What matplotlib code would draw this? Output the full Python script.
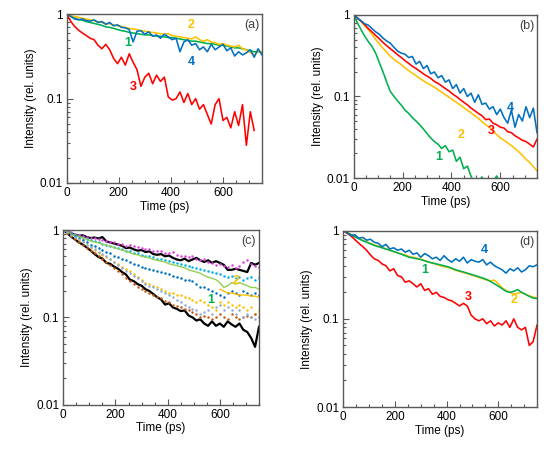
import numpy as np
import matplotlib
matplotlib.use("Agg")
import matplotlib.pyplot as plt
from matplotlib.ticker import FixedLocator, MultipleLocator, LogLocator, NullFormatter, FuncFormatter

plt.rcParams['font.family'] = ['Liberation Sans', 'DejaVu Sans']

# ---------------- data ----------------
t15 = np.arange(0, 751, 15)
t15_red_a = np.arange(0, 721, 15)
t_yel_c = np.arange(600, 751, 15)

# panel (a)
a_green = [1.0, 0.95, 0.91, 0.87, 0.85, 0.82, 0.80, 0.78, 0.76, 0.74,
           0.71, 0.70, 0.68, 0.66, 0.64, 0.63, 0.61, 0.60, 0.59, 0.58,
           0.57, 0.57, 0.56, 0.55, 0.55, 0.54, 0.53, 0.53, 0.52, 0.51,
           0.50, 0.49, 0.48, 0.48, 0.47, 0.46, 0.45, 0.45, 0.44, 0.43,
           0.43, 0.42, 0.41, 0.40, 0.40, 0.39, 0.38, 0.37, 0.36, 0.36,
           0.35]
a_yellow = [1.0, 0.97, 0.94, 0.92, 0.90, 0.88, 0.86, 0.84, 0.82, 0.80,
            0.78, 0.77, 0.75, 0.73, 0.72, 0.70, 0.68, 0.67, 0.66, 0.64,
            0.63, 0.62, 0.61, 0.60, 0.59, 0.58, 0.59, 0.56, 0.55, 0.54,
            0.53, 0.52, 0.51, 0.54, 0.50, 0.48, 0.50, 0.47, 0.46, 0.44,
            0.45, 0.43, 0.42, 0.41, 0.43, 0.39, 0.38, 0.35, 0.33, 0.36,
            0.36]
a_blue = [1.0, 0.95, 0.88, 0.86, 0.88, 0.84, 0.83, 0.86, 0.80, 0.82,
          0.76, 0.80, 0.73, 0.75, 0.70, 0.69, 0.66, 0.47, 0.63, 0.64,
          0.58, 0.62, 0.55, 0.57, 0.52, 0.58, 0.54, 0.50, 0.52, 0.36,
          0.47, 0.50, 0.43, 0.45, 0.38, 0.41, 0.36, 0.44, 0.38, 0.41,
          0.44, 0.37, 0.40, 0.32, 0.36, 0.33, 0.35, 0.38, 0.31, 0.39,
          0.33]
a_red = [1.0, 0.83, 0.72, 0.65, 0.60, 0.56, 0.52, 0.50, 0.43, 0.39,
         0.44, 0.38, 0.30, 0.26, 0.31, 0.25, 0.34, 0.27, 0.22, 0.14,
         0.18, 0.20, 0.15, 0.19, 0.16, 0.18, 0.105, 0.096, 0.10, 0.12,
         0.09, 0.115, 0.085, 0.10, 0.075, 0.085, 0.065, 0.05, 0.085, 0.10,
         0.055, 0.06, 0.045, 0.07, 0.048, 0.085, 0.028, 0.07, 0.042]

# panel (b)
b_green = [1.0, 0.80, 0.66, 0.55, 0.47, 0.41, 0.34, 0.26, 0.20, 0.15,
           0.115, 0.10, 0.088, 0.078, 0.068, 0.062, 0.055, 0.05, 0.045, 0.04,
           0.035, 0.031, 0.028, 0.026, 0.023, 0.025, 0.021, 0.022, 0.016, 0.018,
           0.013, 0.014, 0.0105, 0.0085, 0.009, 0.0103, 0.008, 0.0075, 0.009, 0.0106,
           0.0085, 0.007, 0.0075, 0.006, 0.007, 0.006, 0.0065, 0.0055, 0.006, 0.005,
           0.005]
b_yellow = [1.0, 0.92, 0.83, 0.74, 0.66, 0.58, 0.50, 0.44, 0.39, 0.35,
            0.31, 0.285, 0.265, 0.245, 0.225, 0.208, 0.193, 0.18, 0.167, 0.156,
            0.146, 0.138, 0.13, 0.121, 0.113, 0.105, 0.098, 0.091, 0.085, 0.079,
            0.073, 0.068, 0.063, 0.058, 0.054, 0.049, 0.045, 0.042, 0.038, 0.034,
            0.031, 0.029, 0.027, 0.025, 0.023, 0.021, 0.019, 0.017, 0.0155, 0.0138,
            0.0122]
b_red = [1.0, 0.92, 0.84, 0.76, 0.68, 0.62, 0.56, 0.51, 0.46, 0.42,
         0.385, 0.355, 0.325, 0.30, 0.275, 0.255, 0.235, 0.22, 0.205, 0.19,
         0.178, 0.167, 0.153, 0.145, 0.135, 0.125, 0.117, 0.107, 0.10, 0.092,
         0.085, 0.079, 0.072, 0.067, 0.062, 0.058, 0.052, 0.053, 0.047, 0.045,
         0.042, 0.041, 0.037, 0.036, 0.033, 0.031, 0.029, 0.028, 0.026, 0.024,
         0.03]
b_blue = [1.0, 0.92, 0.85, 0.78, 0.75, 0.68, 0.62, 0.58, 0.52, 0.48,
          0.45, 0.40, 0.36, 0.34, 0.33, 0.30, 0.31, 0.25, 0.27, 0.22,
          0.24, 0.19, 0.20, 0.17, 0.18, 0.15, 0.16, 0.125, 0.14, 0.11,
          0.125, 0.10, 0.11, 0.085, 0.105, 0.08, 0.083, 0.07, 0.075, 0.06,
          0.07, 0.055, 0.047, 0.068, 0.042, 0.06, 0.05, 0.075, 0.055, 0.072,
          0.036]

# panel (c)
c_black_up = [1.0, 0.95, 0.92, 0.88, 0.86, 0.87, 0.83, 0.81, 0.82, 0.80,
              0.83, 0.74, 0.72, 0.70, 0.68, 0.66, 0.62, 0.63, 0.60, 0.58,
              0.59, 0.56, 0.57, 0.53, 0.52, 0.53, 0.50, 0.51, 0.48, 0.46,
              0.45, 0.47, 0.44, 0.46, 0.48, 0.45, 0.43, 0.45, 0.42, 0.44,
              0.42, 0.40, 0.35, 0.35, 0.36, 0.35, 0.34, 0.33, 0.42, 0.40,
              0.42]
c_black_low = [1.0, 0.92, 0.84, 0.78, 0.72, 0.68, 0.63, 0.58, 0.53, 0.49,
               0.47, 0.42, 0.41, 0.38, 0.36, 0.33, 0.31, 0.27, 0.26, 0.24,
               0.23, 0.21, 0.20, 0.185, 0.17, 0.16, 0.14, 0.145, 0.13, 0.125,
               0.118, 0.12, 0.105, 0.10, 0.092, 0.095, 0.085, 0.08, 0.09, 0.08,
               0.085, 0.078, 0.09, 0.083, 0.078, 0.085, 0.072, 0.068, 0.058, 0.046,
               0.078]
c_magenta = [1.0, 0.97, 0.94, 0.90, 0.88, 0.86, 0.84, 0.82, 0.80, 0.79,
             0.76, 0.75, 0.73, 0.72, 0.70, 0.69, 0.66, 0.67, 0.66, 0.64,
             0.63, 0.60, 0.61, 0.58, 0.57, 0.58, 0.55, 0.54, 0.56, 0.52,
             0.51, 0.50, 0.49, 0.50, 0.47, 0.45, 0.46, 0.43, 0.42, 0.40,
             0.41, 0.39, 0.38, 0.40, 0.37, 0.39, 0.43, 0.45, 0.41, 0.39,
             0.38]
c_cyan = [1.0, 0.96, 0.92, 0.88, 0.85, 0.82, 0.79, 0.76, 0.74, 0.72,
          0.70, 0.68, 0.66, 0.64, 0.62, 0.60, 0.58, 0.57, 0.55, 0.54,
          0.52, 0.51, 0.50, 0.49, 0.47, 0.46, 0.45, 0.44, 0.43, 0.42,
          0.41, 0.40, 0.39, 0.38, 0.37, 0.36, 0.35, 0.34, 0.33, 0.32,
          0.31, 0.30, 0.29, 0.30, 0.28, 0.29, 0.27, 0.28, 0.29, 0.27,
          0.28]
c_green = [1.0, 0.95, 0.91, 0.87, 0.84, 0.81, 0.78, 0.75, 0.73, 0.71,
           0.69, 0.67, 0.65, 0.63, 0.61, 0.59, 0.57, 0.55, 0.53, 0.52,
           0.50, 0.49, 0.48, 0.46, 0.45, 0.44, 0.43, 0.41, 0.40, 0.39,
           0.38, 0.37, 0.35, 0.34, 0.33, 0.32, 0.30, 0.29, 0.28, 0.27,
           0.25, 0.22, 0.23, 0.25, 0.24, 0.25, 0.24, 0.23, 0.22, 0.22,
           0.21]
c_blue = [1.0, 0.95, 0.90, 0.85, 0.80, 0.76, 0.72, 0.68, 0.65, 0.62,
          0.59, 0.56, 0.54, 0.51, 0.49, 0.47, 0.45, 0.43, 0.41, 0.40,
          0.38, 0.37, 0.36, 0.35, 0.34, 0.33, 0.32, 0.31, 0.30, 0.29,
          0.28, 0.27, 0.27, 0.26, 0.24, 0.22, 0.22, 0.21, 0.20, 0.19,
          0.18, 0.17, 0.19, 0.20, 0.19, 0.18, 0.20, 0.19, 0.18, 0.19,
          0.18]
c_orange = [1.0, 0.93, 0.87, 0.82, 0.77, 0.72, 0.67, 0.63, 0.59, 0.55,
            0.52, 0.49, 0.46, 0.43, 0.41, 0.38, 0.36, 0.34, 0.31, 0.29,
            0.27, 0.25, 0.24, 0.23, 0.22, 0.21, 0.20, 0.19, 0.19, 0.18,
            0.18, 0.17, 0.165, 0.16, 0.15, 0.16, 0.15, 0.14, 0.13, 0.12,
            0.15, 0.14, 0.15, 0.14, 0.13, 0.14, 0.13, 0.12, 0.13, 0.11,
            0.12]
c_yellow_line = [0.21, 0.20, 0.19, 0.19, 0.185, 0.18, 0.18, 0.18, 0.175, 0.175, 0.17]
c_brown = [1.0, 0.92, 0.85, 0.79, 0.73, 0.68, 0.63, 0.58, 0.54, 0.50,
           0.46, 0.43, 0.40, 0.37, 0.34, 0.31, 0.28, 0.26, 0.24, 0.22,
           0.21, 0.20, 0.19, 0.18, 0.17, 0.165, 0.155, 0.15, 0.14, 0.135,
           0.13, 0.125, 0.12, 0.115, 0.11, 0.10, 0.105, 0.10, 0.095, 0.10,
           0.11, 0.10, 0.095, 0.11, 0.10, 0.095, 0.10, 0.105, 0.10, 0.11,
           0.10]
c_lavender = [1.0, 0.94, 0.88, 0.83, 0.78, 0.73, 0.68, 0.64, 0.60, 0.56,
              0.53, 0.50, 0.46, 0.43, 0.40, 0.37, 0.34, 0.32, 0.30, 0.28,
              0.26, 0.24, 0.23, 0.22, 0.21, 0.20, 0.19, 0.18, 0.17, 0.16,
              0.15, 0.14, 0.13, 0.125, 0.12, 0.11, 0.115, 0.12, 0.11, 0.13,
              0.14, 0.12, 0.13, 0.12, 0.11, 0.12, 0.10, 0.11, 0.10, 0.095,
              0.10]

# panel (d)
d_red = [1.0, 0.93, 0.87, 0.79, 0.72, 0.66, 0.60, 0.53, 0.48, 0.46,
         0.42, 0.40, 0.35, 0.37, 0.31, 0.30, 0.26, 0.27, 0.25, 0.23,
         0.25, 0.21, 0.22, 0.19, 0.20, 0.18, 0.175, 0.165, 0.16, 0.15,
         0.14, 0.15, 0.14, 0.11, 0.10, 0.095, 0.10, 0.088, 0.095, 0.083,
         0.09, 0.085, 0.095, 0.08, 0.10, 0.08, 0.075, 0.08, 0.05, 0.055,
         0.085]
d_green = [1.0, 0.95, 0.90, 0.85, 0.81, 0.77, 0.74, 0.71, 0.68, 0.66,
           0.64, 0.62, 0.60, 0.58, 0.56, 0.54, 0.52, 0.50, 0.49, 0.48,
           0.47, 0.455, 0.44, 0.43, 0.42, 0.41, 0.40, 0.39, 0.375, 0.36,
           0.35, 0.34, 0.33, 0.32, 0.31, 0.30, 0.29, 0.28, 0.265, 0.25,
           0.235, 0.22, 0.205, 0.20, 0.205, 0.215, 0.20, 0.19, 0.18, 0.172,
           0.17]
d_yellow = [1.0, 0.96, 0.91, 0.86, 0.82, 0.78, 0.75, 0.72, 0.69, 0.67,
            0.645, 0.625, 0.60, 0.58, 0.56, 0.545, 0.53, 0.51, 0.50, 0.49,
            0.475, 0.46, 0.44, 0.43, 0.415, 0.40, 0.39, 0.385, 0.37, 0.355,
            0.345, 0.335, 0.325, 0.315, 0.305, 0.295, 0.285, 0.275, 0.27, 0.275,
            0.25, 0.225, 0.21, 0.20, 0.19, 0.195, 0.20, 0.19, 0.182, 0.177,
            0.172]
d_blue = [1.0, 0.95, 0.88, 0.90, 0.82, 0.84, 0.78, 0.80, 0.74, 0.72,
          0.66, 0.70, 0.62, 0.64, 0.60, 0.62, 0.57, 0.60, 0.54, 0.56,
          0.50, 0.55, 0.52, 0.48, 0.50, 0.46, 0.52, 0.47, 0.44, 0.48,
          0.45, 0.50, 0.43, 0.47, 0.45, 0.44, 0.47, 0.41, 0.44, 0.40,
          0.38, 0.36, 0.33, 0.37, 0.35, 0.38, 0.34, 0.36, 0.40, 0.39,
          0.41]

GREEN = '#00B050'
YELLOW = '#FFC000'
BLUE = '#0070C0'
RED = '#FF0000'

fig = plt.figure(figsize=(5.5, 4.57), dpi=100)

rects = {
    'a': [0.1213, 0.5996, 0.4764 - 0.1213, 0.9687 - 0.5996],
    'b': [0.6431, 0.6105, 0.9764 - 0.6431, 0.9672 - 0.6105],
    'c': [0.1151, 0.1144, 0.4709 - 0.1151, 0.4967 - 0.1144],
    'd': [0.6242, 0.1094, 0.9764 - 0.6242, 0.4952 - 0.1094],
}

FS = 8.5
EDGE = '#595959'


def style(ax, tag):
    ax.set_yscale('log')
    ax.set_xlim(0, 750)
    ax.set_ylim(0.01, 1)
    ax.xaxis.set_major_locator(FixedLocator([0, 200, 400, 600]))
    ax.xaxis.set_minor_locator(MultipleLocator(50))
    ax.yaxis.set_major_locator(FixedLocator([0.01, 0.1, 1]))
    ax.yaxis.set_minor_locator(LogLocator(base=10, subs=np.arange(2, 10)))
    ax.yaxis.set_minor_formatter(NullFormatter())
    ax.yaxis.set_major_formatter(FuncFormatter(lambda v, p: {0.01: '0.01', 0.1: '0.1', 1: '1'}.get(round(v, 3), '')))
    ax.tick_params(which='both', direction='in', colors=EDGE, labelcolor='black', labelsize=FS)
    ax.tick_params(which='major', length=4, width=0.8, pad=3)
    ax.tick_params(which='minor', length=2.5, width=0.8)
    for s in ax.spines.values():
        s.set_color(EDGE)
        s.set_linewidth(1.0)
    ax.set_xlabel('Time (ps)', fontsize=FS, labelpad=1)
    ax.set_ylabel('Intensity (rel. units)', fontsize=FS, labelpad=2)
    ax.text(0.985, 0.935, '(%s)' % tag, transform=ax.transAxes, ha='right', va='center',
            fontsize=FS + 0.5, color='#404040')


def lab(ax, x, y, s, c):
    ax.text(x, y, s, color=c, fontsize=FS + 0.5, fontweight='bold', ha='center', va='center')


LW = 1.15

# (a)
ax = fig.add_axes(rects['a'])
ax.plot(t15, a_green, color=GREEN, lw=LW)
ax.plot(t15, a_yellow, color=YELLOW, lw=LW)
ax.plot(t15, a_blue, color=BLUE, lw=LW)
ax.plot(t15_red_a, a_red, color=RED, lw=LW)
style(ax, 'a')
lab(ax, 235, 0.46, '1', GREEN)
lab(ax, 478, 0.75, '2', YELLOW)
lab(ax, 254, 0.136, '3', RED)
lab(ax, 478, 0.27, '4', BLUE)

# (b)
ax = fig.add_axes(rects['b'])
ax.plot(t15, b_green, color=GREEN, lw=LW)
ax.plot(t15, b_yellow, color=YELLOW, lw=LW)
ax.plot(t15, b_red, color=RED, lw=LW)
ax.plot(t15, b_blue, color=BLUE, lw=LW)
style(ax, 'b')
lab(ax, 346, 0.018, '1', GREEN)
lab(ax, 439, 0.034, '2', YELLOW)
lab(ax, 562, 0.038, '3', RED)
lab(ax, 640, 0.072, '4', BLUE)

# (c)
ax = fig.add_axes(rects['c'])
dot = dict(linestyle='None', marker='o', markersize=1.8, markeredgewidth=0)
ax.plot(t15, c_black_up, color='black', lw=1.6)
ax.plot(t15, c_black_low, color='black', lw=1.6)
ax.plot(t15, c_magenta, color='#E040E0', **dot)
ax.plot(t15, c_cyan, color='#00B0F0', **dot)
ax.plot(t15, c_green, color='#92D050', lw=1.0)
ax.plot(t15, c_blue, color=BLUE, **dot)
ax.plot(t15, c_orange, color=YELLOW, **dot)
ax.plot(t_yel_c, c_yellow_line, color=YELLOW, lw=1.0)
ax.plot(t15, c_brown, color='#C55A11', **dot)
ax.plot(t15, c_lavender, color='#8FAADC', **dot)
style(ax, 'c')
lab(ax, 567, 0.16, '1', GREEN)
lab(ax, 662, 0.26, '2', YELLOW)

# (d)
ax = fig.add_axes(rects['d'])
ax.plot(t15, d_yellow, color=YELLOW, lw=LW)
ax.plot(t15, d_green, color=GREEN, lw=LW)
ax.plot(t15, d_red, color=RED, lw=LW)
ax.plot(t15, d_blue, color=BLUE, lw=LW)
style(ax, 'd')
lab(ax, 314, 0.36, '1', GREEN)
lab(ax, 662, 0.165, '2', YELLOW)
lab(ax, 484, 0.175, '3', RED)
lab(ax, 546, 0.6, '4', BLUE)

fig.savefig('out.png', dpi=100)
